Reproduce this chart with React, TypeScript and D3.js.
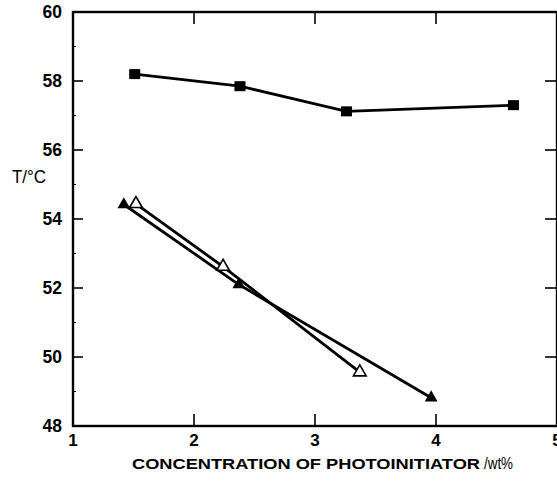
import React, { useEffect, useRef } from "react";
import * as d3 from "d3";

const squareX = [1.51, 2.38, 3.26, 4.64];
const squareY = [58.2, 57.85, 57.12, 57.3];
const filledX = [1.42, 2.37, 3.96];
const filledY = [54.42, 52.1, 48.82];
const openX = [1.52, 2.24, 3.37];
const openY = [54.44, 52.62, 49.56];
const xTicks = [1, 2, 3, 4, 5];
const yTicks = [48, 50, 52, 54, 56, 58, 60];

const W = 557;
const H = 481;

const App = () => {
  const svgRef = useRef<SVGSVGElement>(null);

  useEffect(() => {
    const svg = d3.select(svgRef.current);
    svg.selectAll("*").remove();

    const x = d3.scaleLinear().domain([1, 5]).range([73, 557]);
    const y = d3.scaleLinear().domain([48, 60]).range([426, 12]);
    const font = "'Liberation Sans', Arial, sans-serif";

    // frame
    svg
      .append("rect")
      .attr("x", x(1))
      .attr("y", y(60))
      .attr("width", x(5) - x(1))
      .attr("height", y(48) - y(60))
      .attr("fill", "none")
      .attr("stroke", "#000")
      .attr("stroke-width", 2.4);

    // inward ticks on all four sides
    xTicks.slice(1, -1).forEach((t) => {
      svg.append("line").attr("x1", x(t)).attr("x2", x(t)).attr("y1", y(48)).attr("y2", y(48) - 12)
        .attr("stroke", "#000").attr("stroke-width", 1.6);
      svg.append("line").attr("x1", x(t)).attr("x2", x(t)).attr("y1", y(60)).attr("y2", y(60) + 12)
        .attr("stroke", "#000").attr("stroke-width", 1.6);
    });
    yTicks.slice(1, -1).forEach((t) => {
      svg.append("line").attr("x1", x(1)).attr("x2", x(1) + 10).attr("y1", y(t)).attr("y2", y(t))
        .attr("stroke", "#000").attr("stroke-width", 1.6);
      svg.append("line").attr("x1", x(5)).attr("x2", x(5) - 12).attr("y1", y(t)).attr("y2", y(t))
        .attr("stroke", "#000").attr("stroke-width", 1.6);
    });
    d3.range(49, 60, 2).forEach((t) => {
      svg.append("line").attr("x1", x(1)).attr("x2", x(1) + 3).attr("y1", y(t)).attr("y2", y(t))
        .attr("stroke", "#000").attr("stroke-width", 1);
    });

    // tick labels
    svg
      .selectAll(".xl")
      .data(xTicks)
      .enter()
      .append("text")
      .attr("x", (d) => x(d))
      .attr("y", 446)
      .attr("text-anchor", "middle")
      .attr("font-family", font)
      .attr("font-weight", "bold")
      .attr("font-size", 17)
      .text((d) => d);

    svg
      .selectAll(".yl")
      .data(yTicks)
      .enter()
      .append("text")
      .attr("x", 62)
      .attr("y", (d) => y(d) + 6)
      .attr("text-anchor", "end")
      .attr("font-family", font)
      .attr("font-weight", "bold")
      .attr("font-size", 17.5)
      .text((d) => d);

    // axis titles
    svg
      .append("text")
      .attr("x", 132)
      .attr("y", 469)
      .attr("font-family", font)
      .attr("font-weight", "bold")
      .attr("font-size", 15)
      .attr("textLength", 348)
      .attr("lengthAdjust", "spacingAndGlyphs")
      .text("CONCENTRATION OF PHOTOINITIATOR");
    svg
      .append("text")
      .attr("x", 484)
      .attr("y", 469)
      .attr("font-family", font)
      .attr("font-size", 16)
      .attr("textLength", 29)
      .attr("lengthAdjust", "spacingAndGlyphs")
      .text("/wt%");

    svg
      .append("text")
      .attr("x", 12)
      .attr("y", 183)
      .attr("font-family", font)
      .attr("font-size", 18)
      .attr("textLength", 34)
      .attr("lengthAdjust", "spacingAndGlyphs")
      .text("T/°C");

    const line = d3
      .line<[number, number]>()
      .x((d) => x(d[0]))
      .y((d) => y(d[1]));

    const series = [
      { xs: squareX, ys: squareY },
      { xs: filledX, ys: filledY },
      { xs: openX, ys: openY },
    ];
    series.forEach((s) => {
      svg
        .append("path")
        .attr("d", line(s.xs.map((v, i) => [v, s.ys[i]] as [number, number])))
        .attr("fill", "none")
        .attr("stroke", "#000")
        .attr("stroke-width", 2.8);
    });

    svg
      .selectAll(".sq")
      .data(squareX)
      .enter()
      .append("rect")
      .attr("x", (d) => x(d) - 5.5)
      .attr("y", (d, i) => y(squareY[i]) - 5)
      .attr("width", 11)
      .attr("height", 10)
      .attr("fill", "#000");

    const tri = d3.symbol().type(d3.symbolTriangle).size(70);
    svg
      .selectAll(".ft")
      .data(filledX)
      .enter()
      .append("path")
      .attr("d", tri)
      .attr("transform", (d, i) => `translate(${x(d)},${y(filledY[i])})`)
      .attr("fill", "#000");

    svg
      .selectAll(".ot")
      .data(openX)
      .enter()
      .append("path")
      .attr("d", tri)
      .attr("transform", (d, i) => `translate(${x(d)},${y(openY[i])})`)
      .attr("fill", "#fff")
      .attr("stroke", "#000")
      .attr("stroke-width", 1.6);
  }, []);

  return (
    <svg
      ref={svgRef}
      width={W}
      height={H}
      style={{ position: "absolute", left: 0, top: 0, background: "#fff" }}
    ></svg>
  );
};

export default App;
